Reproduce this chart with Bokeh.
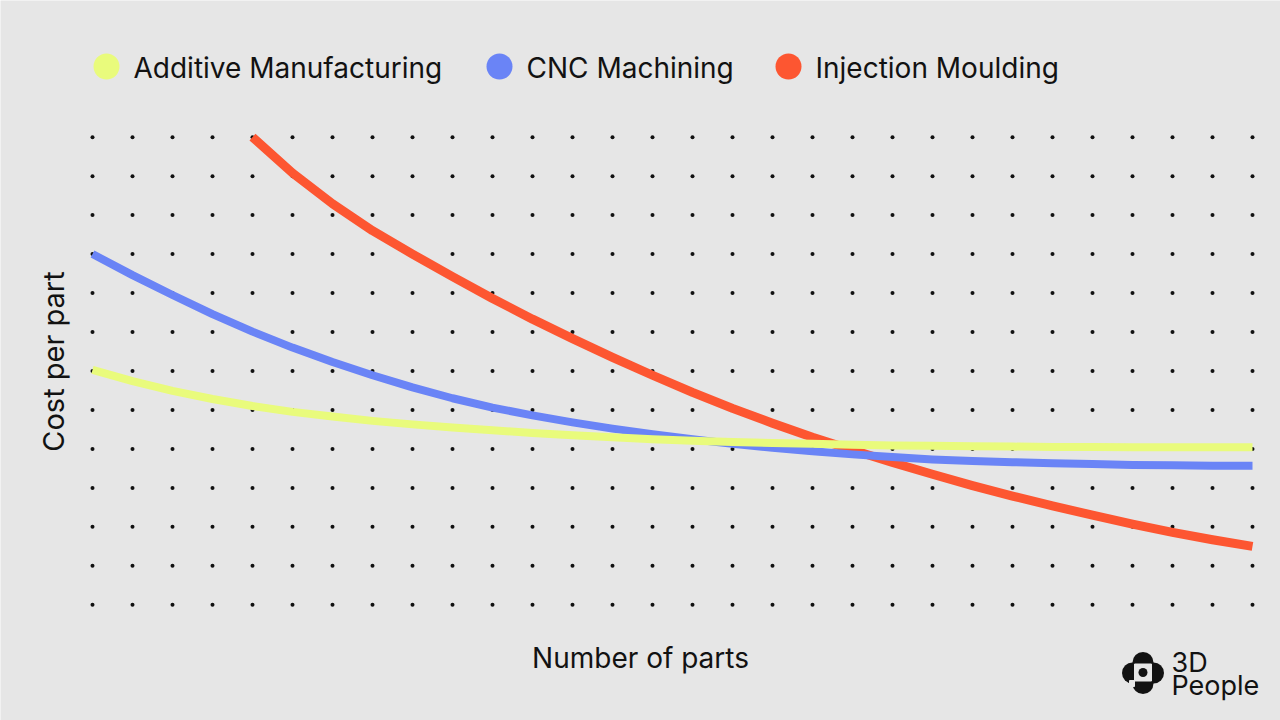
from bokeh.plotting import figure
from bokeh.models import Range1d, Label
from bokeh.embed import file_html
from bokeh.resources import INLINE

# Cost-per-part curves, x = number of parts (grid columns), y = cost (grid rows)
additive_x = list(range(0, 30))
additive_y = [6.03, 5.74, 5.49, 5.28, 5.10, 4.95, 4.83, 4.72, 4.63, 4.55,
              4.48, 4.41, 4.35, 4.30, 4.25, 4.21, 4.18, 4.15, 4.13, 4.11,
              4.09, 4.08, 4.07, 4.06, 4.05, 4.05, 4.04, 4.04, 4.04, 4.04]

cnc_x = list(range(0, 30))
cnc_y = [9.00, 8.46, 7.95, 7.46, 7.01, 6.60, 6.23, 5.89, 5.58, 5.30,
         5.06, 4.86, 4.68, 4.52, 4.38, 4.25, 4.13, 4.03, 3.94, 3.86,
         3.79, 3.73, 3.69, 3.66, 3.63, 3.61, 3.59, 3.58, 3.57, 3.57]

injection_x = list(range(4, 30))
injection_y = [12.0, 11.08, 10.29, 9.60, 9.00, 8.42, 7.86, 7.33, 6.83, 6.35,
               5.89, 5.45, 5.04, 4.66, 4.30, 3.97, 3.65, 3.35, 3.06, 2.79,
               2.54, 2.30, 2.07, 1.86, 1.67, 1.50]

series_names = ["Additive Manufacturing", "CNC Machining", "Injection Moulding"]
series_colors = ["#e9fb7c", "#6a84f6", "#fd5631"]

# Dot grid
grid_cols = list(range(30))
grid_rows = list(range(13))

BG = "#e6e6e6"
INK = "#121212"
FONT = "Inter"

W, H = 1280, 720
X0, DX = 92.0, 40.0      # pixel position of column 0 and column spacing
Y0, DY = 604.3, 38.97    # pixel position of row 0 and row spacing


def gx(px):
    return (px - X0) / DX


def gy(py):
    return (Y0 - py) / DY


p = figure(width=W, height=H, output_backend="svg", toolbar_location=None,
           x_range=Range1d(gx(0), gx(W)), y_range=Range1d(gy(H), gy(0)),
           min_border=0, min_border_left=0, min_border_right=0,
           min_border_top=0, min_border_bottom=0)
p.axis.visible = False
p.grid.visible = False
p.outline_line_color = None
p.background_fill_color = BG
p.border_fill_color = BG

gxs = [c for c in grid_cols for _ in grid_rows]
gys = [r for _ in grid_cols for r in grid_rows]
p.scatter(gxs, gys, size=4, color="#111111", line_color=None)

p.line(injection_x, injection_y, line_width=9, color=series_colors[2],
       line_cap="butt", line_join="round")
p.line(cnc_x, cnc_y, line_width=8, color=series_colors[1],
       line_cap="butt", line_join="round")
p.line(additive_x, additive_y, line_width=8, color=series_colors[0],
       line_cap="butt", line_join="round")

# Legend row
legend_px = [106, 499, 788]
for name, col, px in zip(series_names, series_colors, legend_px):
    p.scatter([gx(px)], [gy(66)], size=26, color=col, line_color=None)
    p.add_layout(Label(x=px + 27, y=H - 67, x_units="screen", y_units="screen",
                       text=name, text_font=FONT, text_font_size="28px",
                       text_color=INK, text_baseline="middle"))

# Axis titles
p.add_layout(Label(x=640, y=H - 657, x_units="screen", y_units="screen",
                   text="Number of parts", text_font=FONT, text_font_size="28px",
                   text_color=INK, text_align="center", text_baseline="middle"))
p.add_layout(Label(x=53, y=H - 361, x_units="screen", y_units="screen",
                   text="Cost per part", text_font=FONT, text_font_size="29px",
                   text_color=INK, text_align="center", text_baseline="middle",
                   angle=90, angle_units="deg"))

# Brand mark: rounded cross with a hollow centre and a dot
p.segment([gx(1132)], [gy(672.5)], [gx(1153)], [gy(672.5)],
          line_width=21, line_cap="round", color=INK)
p.segment([gx(1142.5)], [gy(662)], [gx(1142.5)], [gy(683)],
          line_width=21, line_cap="round", color=INK)
p.rect([gx(1142.5)], [gy(672)], width=17 / DX, height=17 / DY, color=BG)
p.rect([gx(1131.5)], [gy(683)], width=5 / DX, height=6 / DY, color=BG)
p.scatter([gx(1142.5)], [gy(672)], size=9, color=INK, line_color=None)
p.add_layout(Label(x=1171, y=H - 662, x_units="screen", y_units="screen",
                   text="3D", text_font=FONT, text_font_size="27px",
                   text_color=INK, text_baseline="middle"))
p.add_layout(Label(x=1171, y=H - 685, x_units="screen", y_units="screen",
                   text="People", text_font=FONT, text_font_size="27px",
                   text_color=INK, text_baseline="middle"))

open("out.html", "w").write(file_html(p, INLINE))
